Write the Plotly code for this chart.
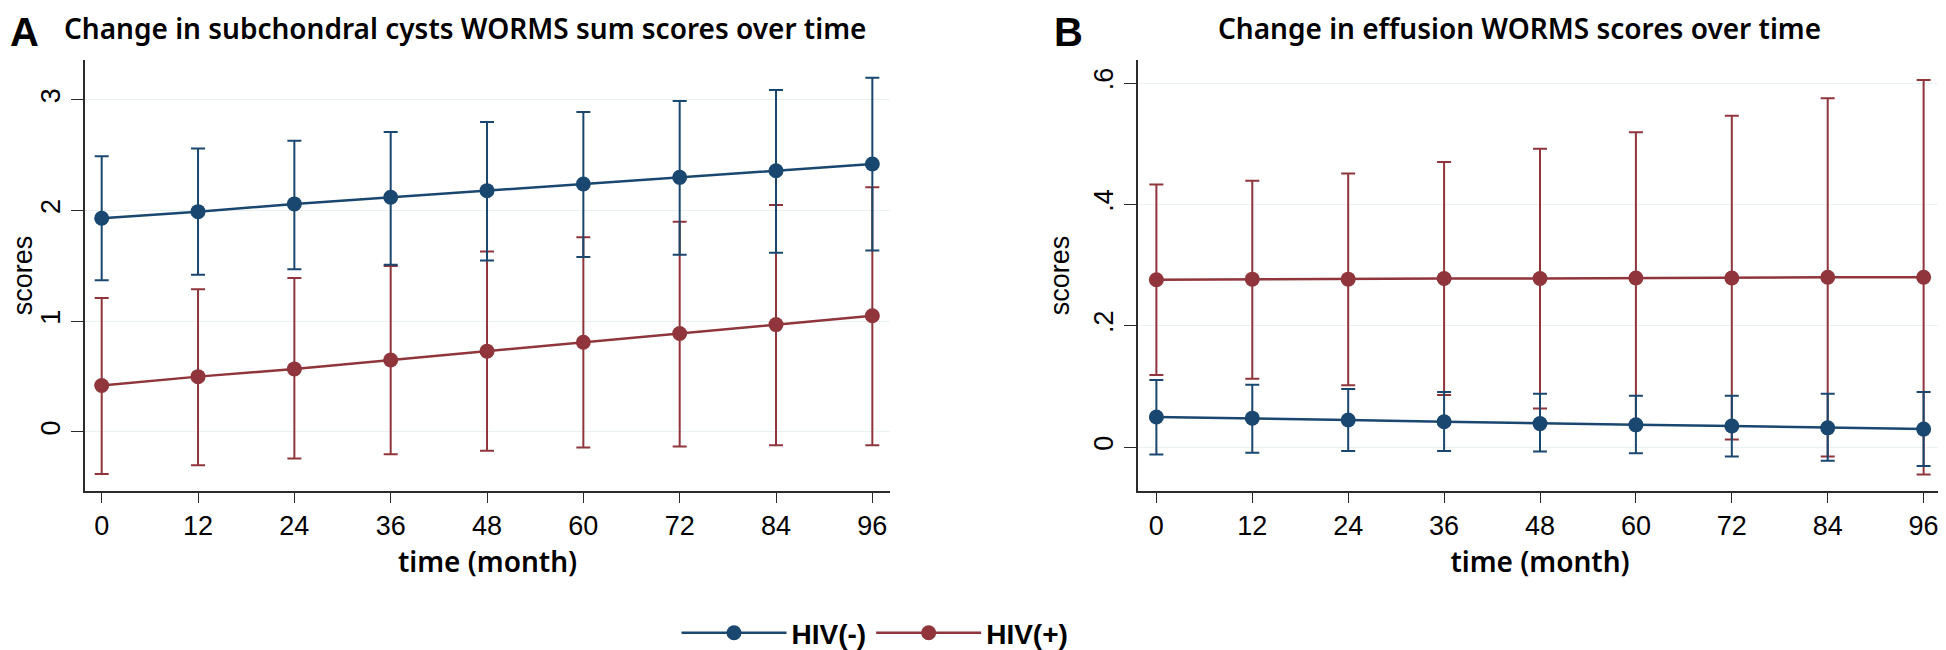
import plotly.graph_objects as go

months = [0, 12, 24, 36, 48, 60, 72, 84, 96]

# Panel A: subchondral cysts WORMS sum scores
a_neg_mean = [1.93, 1.99, 2.06, 2.12, 2.18, 2.24, 2.30, 2.36, 2.42]
a_neg_upper = [2.49, 2.56, 2.63, 2.71, 2.80, 2.89, 2.99, 3.09, 3.20]
a_neg_lower = [1.37, 1.42, 1.47, 1.51, 1.55, 1.58, 1.60, 1.62, 1.64]
a_pos_mean = [0.42, 0.50, 0.57, 0.65, 0.73, 0.81, 0.89, 0.97, 1.05]
a_pos_upper = [1.21, 1.29, 1.39, 1.50, 1.63, 1.76, 1.90, 2.05, 2.21]
a_pos_lower = [-0.38, -0.30, -0.24, -0.20, -0.17, -0.14, -0.13, -0.12, -0.12]

# Panel B: effusion WORMS scores
b_neg_mean = [0.050, 0.048, 0.045, 0.042, 0.039, 0.037, 0.035, 0.032, 0.030]
b_neg_upper = [0.111, 0.103, 0.096, 0.091, 0.088, 0.085, 0.085, 0.088, 0.091]
b_neg_lower = [-0.012, -0.009, -0.006, -0.006, -0.007, -0.010, -0.015, -0.022, -0.031]
b_pos_mean = [0.276, 0.277, 0.277, 0.278, 0.278, 0.279, 0.279, 0.280, 0.280]
b_pos_upper = [0.433, 0.439, 0.451, 0.470, 0.492, 0.519, 0.546, 0.575, 0.605]
b_pos_lower = [0.119, 0.113, 0.102, 0.086, 0.064, 0.040, 0.013, -0.015, -0.045]

x_ticks = [0, 12, 24, 36, 48, 60, 72, 84, 96]
a_yticks = [0, 1, 2, 3]
a_yticktext = ["0", "1", "2", "3"]
b_yticks = [0, 0.2, 0.4, 0.6]
b_yticktext = ["0", ".2", ".4", ".6"]

series_names = ["HIV(-)", "HIV(+)"]
BLUE = "#1a476f"
RED = "#90353b"
TICKFONT = "Liberation Sans, Arial, sans-serif"
TITLEFONT = "Noto Sans, Open Sans, sans-serif"

fig = go.Figure()


def add_series(mean, upper, lower, color, name, xa, ya, showlegend, rank):
    plus = [u - m for u, m in zip(upper, mean)]
    minus = [m - l for m, l in zip(mean, lower)]
    fig.add_trace(go.Scatter(
        x=months, y=mean, name=name, mode="lines+markers",
        xaxis=xa, yaxis=ya, showlegend=showlegend, legendrank=rank,
        line=dict(color=color, width=2.5),
        marker=dict(color=color, size=15, line=dict(width=0)),
        error_y=dict(type="data", symmetric=False, array=plus, arrayminus=minus,
                     color=color, thickness=2, width=7),
    ))


# draw HIV(+) first so HIV(-) is on top
add_series(a_pos_mean, a_pos_upper, a_pos_lower, RED, series_names[1], "x", "y", True, 2)
add_series(a_neg_mean, a_neg_upper, a_neg_lower, BLUE, series_names[0], "x", "y", True, 1)
add_series(b_pos_mean, b_pos_upper, b_pos_lower, RED, series_names[1], "x2", "y2", False, 2)
add_series(b_neg_mean, b_neg_upper, b_neg_lower, BLUE, series_names[0], "x2", "y2", False, 1)

W, H = 1946, 650
OFF = 8  # page body margin


def px(v):
    return (v - OFF) / W


def py(v):
    return 1 - (v - OFF) / H


ydom = [py(491), py(60)]

xaxis_common = dict(
    tickvals=x_ticks, ticktext=[str(t) for t in x_ticks],
    showline=True, linecolor="#2b2b2b", linewidth=1.6,
    ticks="outside", ticklen=10, tickwidth=1.4, tickcolor="#2b2b2b",
    showgrid=False, zeroline=False, automargin=False,
    tickfont=dict(family=TICKFONT, size=27, color="#000"),
    title=dict(text="time (month)", font=dict(family=TITLEFONT, size=28, color="#000", weight=600), standoff=12),
)
yaxis_common = dict(
    showline=True, linecolor="#2b2b2b", linewidth=1.6,
    ticks="outside", ticklen=12, tickwidth=1.4, tickcolor="#2b2b2b",
    showgrid=True, gridcolor="#e9f1f3", gridwidth=1.2, zeroline=False, automargin=False,
    tickangle=-90,
    tickfont=dict(family=TICKFONT, size=27, color="#000"),
    title=dict(text="scores", font=dict(family=TICKFONT, size=27, color="#000"), standoff=12),
)

fig.update_layout(
    width=W, height=H,
    margin=dict(l=0, r=0, t=0, b=0, autoexpand=False),
    paper_bgcolor="white", plot_bgcolor="white",
    xaxis=dict(domain=[px(85), px(890)], range=[-2.08, 98.2], anchor="y", **xaxis_common),
    yaxis=dict(domain=ydom, range=[-0.533, 3.36], anchor="x",
               tickvals=a_yticks, ticktext=a_yticktext, **yaxis_common),
    xaxis2=dict(domain=[px(1138), px(1942)], range=[-2.3, 98.3], anchor="y2", **xaxis_common),
    yaxis2=dict(domain=ydom, range=[-0.072, 0.638], anchor="x2",
                tickvals=b_yticks, ticktext=b_yticktext, **yaxis_common),
    showlegend=True,
    legend=dict(orientation="h", x=px(875), xanchor="center", y=py(633), yanchor="middle",
                font=dict(family=TICKFONT, size=28, color="#000", weight="bold"),
                itemwidth=105, tracegroupgap=0, bgcolor="rgba(0,0,0,0)"),
    annotations=[
        dict(text="A", x=0, y=1, xref="paper", yref="paper", xanchor="left", yanchor="top",
             showarrow=False, font=dict(family=TICKFONT, size=40, color="#000", weight="bold")),
        dict(text="B", x=px(1052), y=1, xref="paper", yref="paper", xanchor="left", yanchor="top",
             showarrow=False, font=dict(family=TICKFONT, size=40, color="#000", weight="bold")),
        dict(text="Change in subchondral cysts WORMS sum scores over time", x=px(465), y=py(28),
             xref="paper", yref="paper", xanchor="center", yanchor="middle", showarrow=False,
             font=dict(family=TITLEFONT, size=28, color="#000", weight=600)),
        dict(text="Change in effusion WORMS scores over time", x=px(1519), y=py(28),
             xref="paper", yref="paper", xanchor="center", yanchor="middle", showarrow=False,
             font=dict(family=TITLEFONT, size=28, color="#000", weight=600)),
    ],
)

fig.write_html("out.html")
